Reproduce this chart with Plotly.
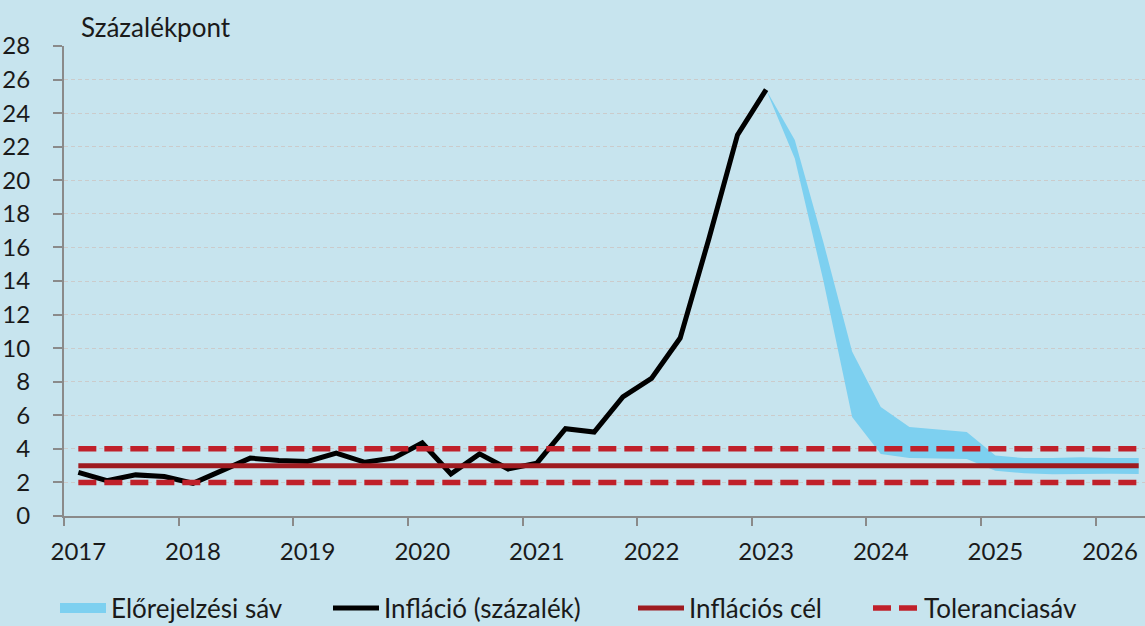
import plotly.graph_objects as go

# ---- data (quarterly) ----
years = [2017, 2018, 2019, 2020, 2021, 2022, 2023, 2024, 2025, 2026]
quarter_year = [y for y in years for _ in range(4)][:38]
quarter_num = [q for _ in years for q in (1, 2, 3, 4)][:38]

inflation = [2.6, 2.1, 2.45, 2.35, 1.95, 2.7, 3.45, 3.3, 3.25, 3.75, 3.2, 3.45,
             4.35, 2.5, 3.7, 2.8, 3.15, 5.2, 5.0, 7.1, 8.2, 10.6, 16.5, 22.7, 25.4]

band_upper = [25.4, 22.4, 16.3, 9.8, 6.5, 5.3, 5.15, 5.0, 3.6, 3.45, 3.45, 3.5, 3.45, 3.45]
band_lower = [25.4, 21.3, 14.0, 5.9, 3.7, 3.45, 3.43, 3.4, 2.7, 2.55, 2.48, 2.52, 2.52, 2.5]
band_start = 24  # 2023 Q1

target_value = 3
tolerance_low = 2
tolerance_high = 4

tick_labels = [str(y) for y in years]

# ---- derived positions (category centres) ----
xq = [y + (q - 0.5) / 4 for y, q in zip(quarter_year, quarter_num)]
x_infl = xq[:len(inflation)]
x_band = xq[band_start:band_start + len(band_upper)]
target = [target_value] * len(xq)
tol_lo = [tolerance_low] * len(xq)
tol_hi = [tolerance_high] * len(xq)

FONT = "Lato"
BG = "#C7E4EE"
TXT = "#1a1a1a"
BAND = "#7DD0F0"

fig = go.Figure()

fig.add_trace(go.Scatter(x=x_band, y=band_lower, mode="lines", line=dict(width=0),
                         showlegend=False, hoverinfo="skip"))
fig.add_trace(go.Scatter(x=x_band, y=band_upper, mode="lines", line=dict(width=0),
                         fill="tonexty", fillcolor=BAND, name="Előrejelzési sáv",
                         showlegend=False))
# legend swatch for the band
fig.add_trace(go.Scatter(x=[None], y=[None], mode="lines",
                         line=dict(color=BAND, width=14), name="Előrejelzési sáv",
                         legend="legend"))
fig.add_trace(go.Scatter(x=x_infl, y=inflation, mode="lines",
                         line=dict(color="#000000", width=5), name="Infláció (százalék)",
                         legend="legend2"))
fig.add_trace(go.Scatter(x=xq, y=target, mode="lines",
                         line=dict(color="#9E1B20", width=5), name="Inflációs cél",
                         legend="legend3"))
fig.add_trace(go.Scatter(x=xq, y=tol_lo, mode="lines",
                         line=dict(color="#C0202A", width=5.5, dash="18px,8px"),
                         name="Toleranciasáv", legend="legend4"))
fig.add_trace(go.Scatter(x=xq, y=tol_hi, mode="lines",
                         line=dict(color="#C0202A", width=5.5, dash="18px,8px"),
                         showlegend=False))

xr = [2017, 2026.43]
leg_common = dict(orientation="h", yanchor="middle", y=-0.196, xanchor="left",
                  itemwidth=46,
                  font=dict(family=FONT, size=26, color=TXT), bgcolor="rgba(0,0,0,0)")

def lx(px):
    return (px - 64) / 1081

fig.update_layout(
    width=1145, height=626,
    margin=dict(l=64, r=0, t=46, b=110, autoexpand=False),
    paper_bgcolor=BG, plot_bgcolor=BG,
    font=dict(family=FONT, size=24, color=TXT),
    xaxis=dict(range=xr, tickmode="array", tickvals=years, showticklabels=False,
               ticks="outside", ticklen=8, tickcolor="#8A8A8A", tickwidth=2,
               showline=True, linecolor="#8A8A8A", linewidth=2,
               showgrid=False, zeroline=False, automargin=False),
    xaxis2=dict(range=xr, overlaying="x", matches="x", side="bottom",
                tickmode="array", tickvals=[y + 0.125 for y in years], ticktext=tick_labels,
                ticks="", showgrid=False, zeroline=False, showline=False, automargin=False,
                ticklabelstandoff=19, tickfont=dict(family=FONT, size=24, color=TXT)),
    yaxis=dict(range=[0, 28], tickmode="linear", tick0=0, dtick=2,
               ticks="outside", ticklen=9, tickcolor="#8A8A8A", tickwidth=2,
               showline=True, linecolor="#8A8A8A", linewidth=2,
               showgrid=True, gridcolor="#CBCBCB", gridwidth=1, griddash="4px,3px",
               zeroline=False, ticklabelstandoff=18, automargin=False,
               tickfont=dict(family=FONT, size=24, color=TXT)),
    legend=dict(x=lx(55), **leg_common),
    legend2=dict(x=lx(328), **leg_common),
    legend3=dict(x=lx(633), **leg_common),
    legend4=dict(x=lx(868), **leg_common),
    annotations=[dict(text="Százalékpont", xref="paper", yref="paper",
                      x=lx(79), y=(516 - 27) / 470, xanchor="left", yanchor="middle",
                      showarrow=False, font=dict(family=FONT, size=26, color=TXT))],
)

# dummy trace to activate xaxis2
fig.add_trace(go.Scatter(x=[xr[0]], y=[0], xaxis="x2", mode="markers",
                         marker=dict(opacity=0), showlegend=False, hoverinfo="skip"))

fig.write_html("out.html", config={"displayModeBar": False},
               post_script="document.body.style.margin='0';document.body.style.padding='0';")
